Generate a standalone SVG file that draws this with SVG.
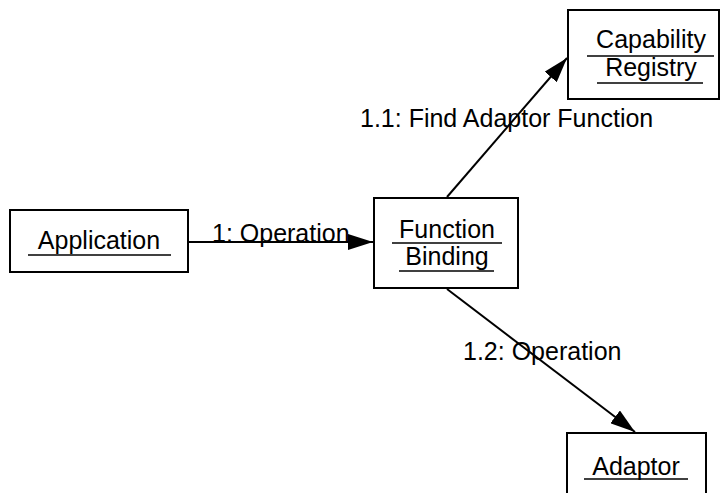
<svg xmlns="http://www.w3.org/2000/svg" width="721" height="493" viewBox="0 0 721 493">
  <style>
    .box { fill: #fff; stroke: #000; stroke-width: 2; }
    .name { font-family: "Liberation Sans", Arial, sans-serif; font-size: 25px; fill: #000; text-anchor: middle; }
    .ul { stroke: #000; stroke-width: 1.5; }
    .msg { font-family: "Liberation Sans", Arial, sans-serif; font-size: 25px; fill: #000; }
    .link { stroke: #000; stroke-width: 2; fill: none; marker-end: url(#head); }
  </style>
  <defs>
    <marker id="head" viewBox="0 0 25 16" refX="25" refY="8" markerWidth="25" markerHeight="16" markerUnits="userSpaceOnUse" orient="auto">
      <path d="M0,0 L25,8 L0,16 Z" fill="#000"/>
    </marker>
  </defs>

  <rect width="721" height="493" fill="#fff"/>

  <g id="application">
    <rect class="box" x="10" y="210" width="178" height="62"/>
    <text class="name" x="99" y="249">Application</text>
    <line class="ul" x1="28" y1="255" x2="171" y2="255"/>
  </g>

  <g id="function-binding">
    <rect class="box" x="374" y="198" width="144" height="90"/>
    <text class="name" x="447" y="238">Function</text>
    <line class="ul" x1="392" y1="243" x2="502" y2="243"/>
    <text class="name" x="447" y="265">Binding</text>
    <line class="ul" x1="399" y1="271" x2="494" y2="271"/>
  </g>

  <g id="capability-registry">
    <rect class="box" x="568" y="10" width="151" height="89"/>
    <text class="name" x="651" y="48">Capability</text>
    <line class="ul" x1="587" y1="56" x2="714" y2="56"/>
    <text class="name" x="651" y="76">Registry</text>
    <line class="ul" x1="597" y1="83" x2="703" y2="83"/>
  </g>

  <g id="adaptor">
    <rect class="box" x="567" y="433" width="139" height="70"/>
    <text class="name" x="636" y="475">Adaptor</text>
    <line class="ul" x1="584" y1="479" x2="688" y2="479"/>
  </g>

  <g id="connectors">
    <line class="link" x1="188" y1="242" x2="373" y2="242"/>
    <text class="msg" x="212" y="242">1: Operation</text>
    <line class="link" x1="447" y1="197" x2="567" y2="58"/>
    <text class="msg" x="360" y="127">1.1: Find Adaptor Function</text>
    <line class="link" x1="447" y1="289" x2="635" y2="432"/>
    <text class="msg" x="463" y="360">1.2: Operation</text>
  </g>
</svg>
